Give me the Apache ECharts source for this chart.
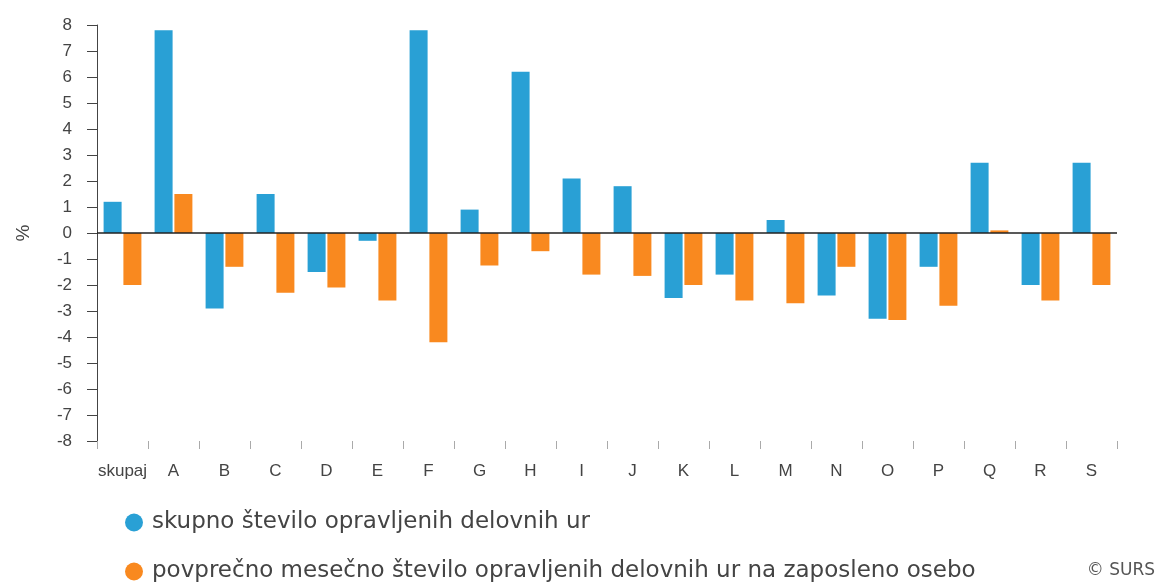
<!DOCTYPE html>
<html>
<head>
<meta charset="utf-8">
<script src="https://cdn.jsdelivr.net/npm/echarts@6/dist/echarts.min.js"></script>
<style>
html,body{margin:0;padding:0;background:#fff;}
#chart{width:1160px;height:584px;}
</style>
</head>
<body>
<div id="chart"></div>
<script>
var categories = ['skupaj','A','B','C','D','E','F','G','H','I','J','K','L','M','N','O','P','Q','R','S'];
var skupnoUr = [1.2, 7.8, -2.9, 1.5, -1.5, -0.3, 7.8, 0.9, 6.2, 2.1, 1.8, -2.5, -1.6, 0.5, -2.4, -3.3, -1.3, 2.7, -2.0, 2.7];
var povprecnoUr = [-2.0, 1.5, -1.3, -2.3, -2.1, -2.6, -4.2, -1.25, -0.7, -1.6, -1.65, -2.0, -2.6, -2.7, -1.3, -3.35, -2.8, 0.1, -2.6, -2.0];
var seriesNames = ['skupno število opravljenih delovnih ur', 'povprečno mesečno število opravljenih delovnih ur na zaposleno osebo'];

var legendText = {
    fontFamily: 'DejaVu Sans',
    fontSize: 23,
    color: '#444',
    padding: [0, 0, 0, 4]
};

var myChart = echarts.init(document.getElementById('chart'));
var option = {
    animation: false,
    backgroundColor: '#fff',
    color: ['#29a0d5', '#f9891f'],
    grid: {
        left: 97,
        right: 43,
        top: 25,
        bottom: 143
    },
    legend: [
        {
            left: 125,
            top: 511,
            padding: 0,
            itemWidth: 18,
            itemHeight: 18,
            icon: 'circle',
            textStyle: legendText,
            data: [seriesNames[0]]
        },
        {
            left: 125,
            top: 560,
            padding: 0,
            itemWidth: 18,
            itemHeight: 18,
            icon: 'circle',
            textStyle: legendText,
            data: [seriesNames[1]]
        }
    ],
    xAxis: {
        type: 'category',
        data: categories,
        axisLine: {
            show: false,
            onZero: false
        },
        axisTick: {
            show: true,
            length: 8,
            lineStyle: {color: '#aaa'}
        },
        axisLabel: {
            interval: 0,
            margin: 22,
            fontFamily: 'Liberation Sans',
            fontSize: 17,
            color: '#444'
        }
    },
    yAxis: {
        type: 'value',
        min: -8,
        max: 8,
        interval: 1,
        name: '%',
        nameLocation: 'middle',
        nameRotate: 90,
        nameGap: 64,
        nameTextStyle: {
            fontFamily: 'Liberation Sans',
            fontSize: 19,
            color: '#444'
        },
        axisLine: {
            show: true,
            lineStyle: {color: '#444'}
        },
        axisTick: {
            show: true,
            length: 10,
            lineStyle: {color: '#444'}
        },
        splitLine: {show: false},
        axisLabel: {
            margin: 25,
            fontFamily: 'Liberation Sans',
            fontSize: 17,
            color: '#444'
        }
    },
    graphic: [{
        type: 'text',
        right: 5,
        top: 562,
        style: {
            text: '© SURS',
            fontFamily: 'DejaVu Sans',
            fontSize: 17,
            fill: '#555'
        }
    }],
    series: [
        {
            name: seriesNames[0],
            type: 'bar',
            data: skupnoUr,
            barWidth: 18,
            barGap: '10%',
            markLine: {
                silent: true,
                symbol: 'none',
                label: {show: false},
                lineStyle: {color: '#222', width: 1.5, type: 'solid'},
                data: [{yAxis: 0}]
            }
        },
        {
            name: seriesNames[1],
            type: 'bar',
            data: povprecnoUr,
            barWidth: 18,
            barGap: '10%'
        }
    ]
};
myChart.setOption(option);
</script>
</body>
</html>
